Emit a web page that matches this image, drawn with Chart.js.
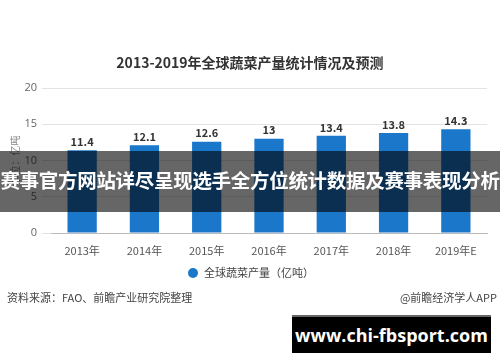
<!DOCTYPE html>
<html>
<head>
<meta charset="utf-8">
<script src="https://cdn.jsdelivr.net/npm/chart.js@4.4.1/dist/chart.umd.min.js"></script>
<style>
  html, body { margin: 0; padding: 0; background: #fff; }
  body { width: 500px; height: 362px; position: relative; overflow: hidden; font-family: "Noto Sans CJK SC", "Noto Sans", sans-serif; }
  #wrap { position: absolute; left: 0; top: 0; width: 500px; height: 362px; }
  .txt { position: absolute; white-space: nowrap; color: #333; }
  #title { left: 0; width: 500px; top: 52px; text-align: center; font-size: 14px; font-weight: bold; line-height: 20px; }
  #legend { left: 188px; top: 263px; font-size: 11px; line-height: 18px; color: #444; }
  #legend span.dot { display: inline-block; width: 10px; height: 10px; border-radius: 50%; background: #1a77c9; vertical-align: -1px; margin-right: 6px; }
  #src { left: 7px; top: 289px; font-size: 11px; line-height: 16px; color: #444; }
  #app { right: 3px; top: 289px; font-size: 11px; line-height: 16px; color: #444; }
  #banner { position: absolute; left: 0; top: 151px; width: 500px; height: 61px; background: rgba(0,0,0,0.6); }
  #banner div { position: absolute; left: -10px; width: 520px; top: 17px; text-align: center; color: #fff; font-size: 19.5px; font-weight: bold; line-height: 24px; letter-spacing: -0.3px; white-space: nowrap; }
  #site { position: absolute; left: 292px; top: 315px; width: 199px; height: 36px; background: #000; border-top: 2px solid #666; }
  #site div { text-align: center; color: #fff; font-family: "Open Sans", sans-serif; font-weight: bold; font-size: 18px; line-height: 36px; }
</style>
</head>
<body>
<div id="wrap"><canvas id="myChart" width="500" height="362"></canvas></div>
<div class="txt" id="title">2013-2019年全球蔬菜产量统计情况及预测</div>
<div class="txt" id="legend"><span class="dot"></span>全球蔬菜产量（亿吨）</div>
<div class="txt" id="src">资料来源：FAO、前瞻产业研究院整理</div>
<div class="txt" id="app">@前瞻经济学人APP</div>
<div id="banner"><div>赛事官方网站详尽呈现选手全方位统计数据及赛事表现分析</div></div>
<div id="site"><div>www.chi-fbsport.com</div></div>
<script>
const years = ['2013年', '2014年', '2015年', '2016年', '2017年', '2018年', '2019年E'];
const output = [11.4, 12.1, 12.6, 13, 13.4, 13.8, 14.3];
const series_name = '全球蔬菜产量（亿吨）';
const y_title = '单位：亿吨';

const ctx = document.getElementById('myChart').getContext('2d');

// value labels over each bar
const bar_labels = {
    id: 'bar_labels',
    afterDatasetsDraw(chart) {
        const c = chart.ctx;
        const meta = chart.getDatasetMeta(0);
        c.save();
        c.font = 'bold 11px "Noto Sans CJK SC", sans-serif';
        c.fillStyle = '#333';
        c.textAlign = 'center';
        c.textBaseline = 'bottom';
        meta.data.forEach((bar, i) => {
            c.fillText(String(output[i]), bar.x, bar.y - 3);
        });
        c.restore();
    }
};

const chart = new Chart(ctx, {
    type: 'bar',
    data: {
        labels: years,
        datasets: [{
            label: series_name,
            data: output,
            backgroundColor: '#1a77c9',
            barPercentage: 0.94,
            categoryPercentage: 0.5
        }]
    },
    options: {
        responsive: false,
        animation: false,
        layout: { padding: { left: 0, top: 88, right: 13, bottom: 101 } },
        plugins: {
            legend: { display: false },
            title: { display: false },
            tooltip: { enabled: false }
        },
        scales: {
            x: {
                grid: { display: false },
                border: { display: true, color: '#bbb', width: 1 },
                ticks: { color: '#555', font: { size: 11, family: '"Noto Sans CJK SC", sans-serif' }, padding: 3 },
                afterFit: (scale) => { scale.height = 28; }
            },
            y: {
                min: 0,
                max: 20,
                ticks: { stepSize: 5, color: '#666', font: { size: 11, family: '"Open Sans", sans-serif' }, padding: 5 },
                grid: { color: '#e3e3e3', tickLength: 9, tickColor: '#e3e3e3' },
                border: { display: false },
                title: { display: true, text: y_title, color: '#888', font: { size: 10, family: '"Noto Sans CJK SC", sans-serif' }, padding: { top: 9, bottom: 0 } },
                afterFit: (scale) => { scale.width = 51; }
            }
        }
    },
    plugins: [bar_labels]
});
</script>
</body>
</html>
